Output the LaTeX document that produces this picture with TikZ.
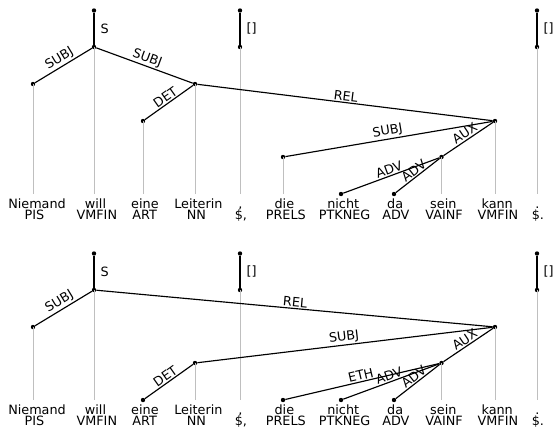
\documentclass[tikz,border=0pt]{standalone}
\usepackage{fontspec}
\setmainfont{DejaVu Sans}
\newcommand\tk[1]{\makebox[0.86\width][l]{#1}}
\begin{document}
\begin{tikzpicture}[x=1pt,y=-1pt,
  dot/.style={circle,fill=black,inner sep=0pt,minimum size=4.4pt},
  arc/.style={line width=1.15pt,black},
  proj/.style={line width=0.9pt,black!25},
  lbl/.style={font=\fontsize{12.8}{13}\selectfont,inner sep=1.2pt},
  slbl/.style={font=\fontsize{12.8}{13}\selectfont,inner sep=6pt},
  word/.style={font=\fontsize{12.8}{13}\selectfont,anchor=base,inner sep=0pt},
]
\useasboundingbox (0,0) rectangle (553,434);

% ---------- top tree ----------
\coordinate (gtop) at (0,194);
\node[dot] (r1) at (94,10.5) {};
\node[dot] (v1) at (94,47) {};
\node[dot] (n1) at (33,84) {};
\node[dot] (l1) at (195,84) {};
\node[dot] (e1) at (143,121) {};
\node[dot] (k1) at (495,121) {};
\node[dot] (d1) at (283,157) {};
\node[dot] (s1) at (441.5,157) {};
\node[dot] (ni1) at (341,194) {};
\node[dot] (da1) at (394,194) {};
\node[dot] (c1a) at (240,10.5) {};
\node[dot] (c1b) at (240,47) {};
\node[dot] (p1a) at (537,10.5) {};
\node[dot] (p1b) at (537,47) {};

\foreach \t in {v1,n1,l1,e1,k1,d1,s1,c1b,p1b}
  \draw[proj] (\t.center) -- (\t |- gtop);

\draw[arc] (r1) -- node[midway,right,slbl] {S} (v1);
\draw[arc] (c1a) -- node[midway,right,slbl] {[]} (c1b);
\draw[arc] (p1a) -- node[midway,right,slbl] {[]} (p1b);
\draw[arc] (n1) -- node[midway,sloped,above,lbl] {SUBJ} (v1);
\draw[arc] (v1) -- node[midway,sloped,above,lbl] {SUBJ} (l1);
\draw[arc] (e1) -- node[midway,sloped,above,lbl] {DET} (l1);
\draw[arc] (l1) -- node[midway,sloped,above,lbl] {REL} (k1);
\draw[arc] (d1) -- node[midway,sloped,above,lbl] {SUBJ} (k1);
\draw[arc] (s1) -- node[midway,sloped,above,lbl] {AUX} (k1);
\draw[arc] (ni1) -- node[midway,sloped,above,lbl] {ADV} (s1);
\draw[arc] (da1) -- node[midway,sloped,above,lbl] {ADV} (s1);

\foreach \x/\w/\p [count=\i] in {33/Niemand/PIS,94/will/VMFIN,143/eine/ART,195/Leiterin/NN,240/{{,}}/{{\$,}},283/die/PRELS,341/nicht/PTKNEG,394/da/ADV,441.5/sein/VAINF,495/kann/VMFIN,537/./\$.}{
  \node[word] (wa\i) at (\x,208) {\tk{\w}};
  \node[word] (ta\i) at (\x,219) {\tk{\p}};
}

% ---------- bottom tree ----------
\coordinate (gbot) at (0,400);
\node[dot] (r2) at (94,253.5) {};
\node[dot] (v2) at (94,290) {};
\node[dot] (n2) at (33,327) {};
\node[dot] (k2) at (495,327) {};
\node[dot] (l2) at (195,363) {};
\node[dot] (s2) at (441.5,363) {};
\node[dot] (e2) at (143,400) {};
\node[dot] (d2) at (283,400) {};
\node[dot] (ni2) at (341,400) {};
\node[dot] (da2) at (394,400) {};
\node[dot] (c2a) at (240,253.5) {};
\node[dot] (c2b) at (240,290) {};
\node[dot] (p2a) at (537,253.5) {};
\node[dot] (p2b) at (537,290) {};

\foreach \t in {v2,n2,k2,l2,s2,c2b,p2b}
  \draw[proj] (\t.center) -- (\t |- gbot);

\draw[arc] (r2) -- node[midway,right,slbl] {S} (v2);
\draw[arc] (c2a) -- node[midway,right,slbl] {[]} (c2b);
\draw[arc] (p2a) -- node[midway,right,slbl] {[]} (p2b);
\draw[arc] (n2) -- node[midway,sloped,above,lbl] {SUBJ} (v2);
\draw[arc] (v2) -- node[midway,sloped,above,lbl] {REL} (k2);
\draw[arc] (l2) -- node[midway,sloped,above,lbl] {SUBJ} (k2);
\draw[arc] (e2) -- node[midway,sloped,above,lbl] {DET} (l2);
\draw[arc] (s2) -- node[midway,sloped,above,lbl] {AUX} (k2);
\draw[arc] (d2) -- node[midway,sloped,above,lbl] {ETH} (s2);
\draw[arc] (ni2) -- node[midway,sloped,above,lbl] {ADV} (s2);
\draw[arc] (da2) -- node[midway,sloped,above,lbl] {ADV} (s2);

\foreach \x/\w/\p [count=\i] in {33/Niemand/PIS,94/will/VMFIN,143/eine/ART,195/Leiterin/NN,240/{{,}}/{{\$,}},283/die/PRELS,341/nicht/PTKNEG,394/da/ADV,441.5/sein/VAINF,495/kann/VMFIN,537/./\$.}{
  \node[word] (wb\i) at (\x,414) {\tk{\w}};
  \node[word] (tb\i) at (\x,425.5) {\tk{\p}};
}
\end{tikzpicture}
\end{document}
